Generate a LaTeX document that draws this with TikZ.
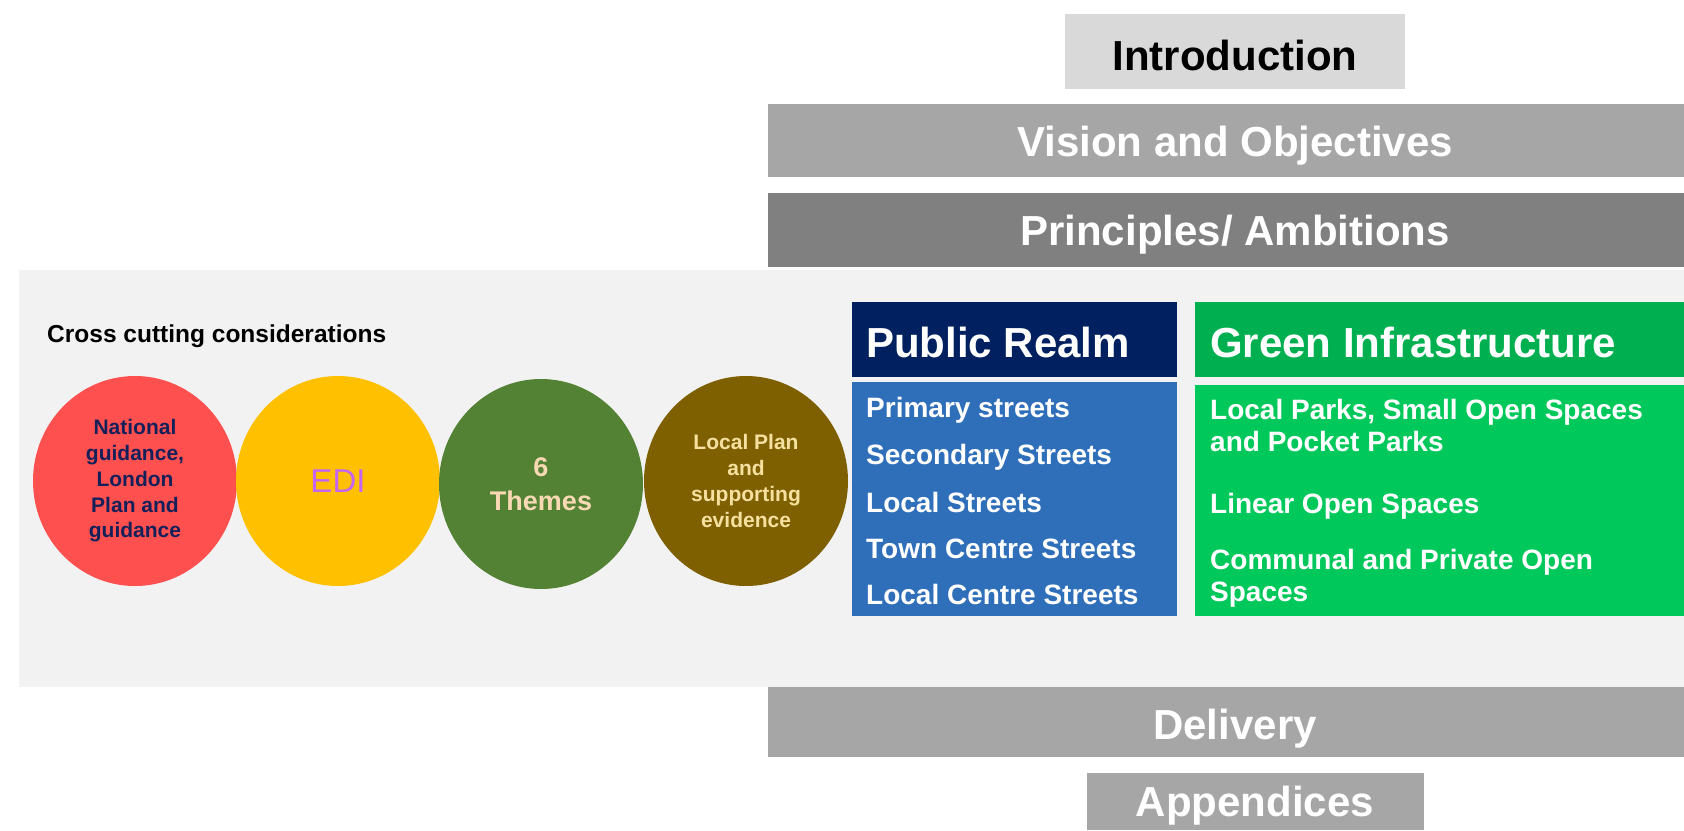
\documentclass[tikz,border=0pt]{standalone}
\usepackage{fontspec}
\setmainfont{Liberation Sans}
\usetikzlibrary{shapes.geometric}

\definecolor{introgrey}{HTML}{D9D9D9}
\definecolor{bargrey}{HTML}{A6A6A6}
\definecolor{darkbar}{HTML}{808080}
\definecolor{panelgrey}{HTML}{F2F2F2}
\definecolor{navyhead}{HTML}{002060}
\definecolor{bluebody}{HTML}{2F6FBA}
\definecolor{greenhead}{HTML}{00B050}
\definecolor{greenbody}{HTML}{00C85A}
\definecolor{redcirc}{HTML}{FF5050}
\definecolor{yellowcirc}{HTML}{FFC000}
\definecolor{greencirc}{HTML}{548235}
\definecolor{browncirc}{HTML}{7F6000}
\definecolor{navytext}{HTML}{14205A}
\definecolor{violettext}{HTML}{C466F0}
\definecolor{peachtext}{HTML}{F8D9B4}
\definecolor{creamtext}{HTML}{F6E0A0}

\tikzset{
  bigtxt/.style={font=\bfseries\fontsize{42}{50}\selectfont},
  listtxt/.style={font=\bfseries\fontsize{28}{32}\selectfont, text=white, anchor=west, inner sep=0pt, align=left},
  bubble/.style={ellipse, draw=none, minimum width=204pt, minimum height=210pt, inner sep=0pt, align=center},
  smallbubtxt/.style={font=\bfseries\fontsize{21}{25.7}\selectfont},
}

\begin{document}
\begin{tikzpicture}[x=1pt,y=-1pt]
\useasboundingbox (0,0) rectangle (1684,830);
\fill[white] (0,0) rectangle (1684,830);

% background panel for the cross cutting section
\fill[panelgrey] (19,270) rectangle (1684,687);

% horizontal section bars
\fill[introgrey] (1065,14) rectangle (1405,89);
\node[bigtxt, text=black] (intro) at (1235,55) {Introduction};

\fill[bargrey] (768,104) rectangle (1684,177);
\node[bigtxt, text=white] (vision) at (1235,146) {Vision and Objectives};

\fill[darkbar] (768,193) rectangle (1684,267);
\node[bigtxt, text=white] (princ) at (1235,235) {Principles/ Ambitions};

\fill[bargrey] (768,687) rectangle (1684,757);
\node[bigtxt, text=white] (deliv) at (1235,729) {Delivery};

\fill[bargrey] (1087,773) rectangle (1424,830);
\node[bigtxt, text=white] (append) at (1255,806) {Appendices};

% cross cutting considerations
\node[font=\bfseries\fontsize{24.5}{28}\selectfont, anchor=west, inner sep=0pt] (cross) at (47,336) {Cross cutting considerations};

\node[bubble, fill=redcirc, text=navytext, smallbubtxt] (natl) at (135,481)
  {National\\guidance,\\London\\Plan and\\guidance};
\node[bubble, fill=yellowcirc, text=violettext, font=\fontsize{33}{38}\selectfont] (edi) at (338,481) {EDI};
\node[bubble, fill=greencirc, text=peachtext, font=\bfseries\fontsize{27}{34}\selectfont] (themes) at (541,484) {6\\Themes};
\node[bubble, fill=browncirc, text=creamtext, smallbubtxt] (local) at (746,481)
  {Local Plan\\and\\supporting\\evidence};

% public realm column
\fill[navyhead] (852,302) rectangle (1177,377);
\node[bigtxt, text=white, anchor=west, inner sep=0pt] (prhead) at (866,342) {Public Realm};
\fill[bluebody] (852,382) rectangle (1177,616);
\node[listtxt] (pr1) at (866,410) {Primary streets};
\node[listtxt] (pr2) at (866,457) {Secondary Streets};
\node[listtxt] (pr3) at (866,502) {Local Streets};
\node[listtxt] (pr4) at (866,549) {Town Centre Streets};
\node[listtxt] (pr5) at (866,594) {Local Centre Streets};

% green infrastructure column
\fill[greenhead] (1195,302) rectangle (1684,377);
\node[bigtxt, text=white, anchor=west, inner sep=0pt] (gihead) at (1210,342) {Green Infrastructure};
\fill[greenbody] (1195,385) rectangle (1684,616);
\node[listtxt] (gi1) at (1210,425) {Local Parks, Small Open Spaces\\and Pocket Parks};
\node[listtxt] (gi2) at (1210,506) {Linear Open Spaces};
\node[listtxt] (gi3) at (1210,578) {Communal and Private Open\\Spaces};
\end{tikzpicture}
\end{document}
